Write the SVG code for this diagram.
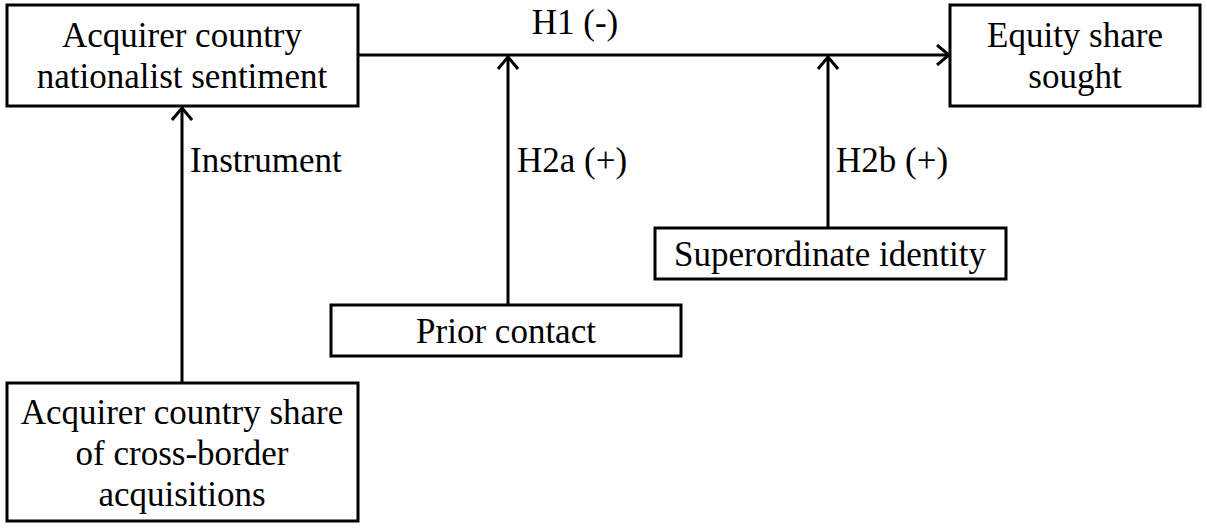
<svg xmlns="http://www.w3.org/2000/svg" width="1207" height="528" viewBox="0 0 1207 528">
<defs>
<style>
.box{fill:#fff;stroke:#000;stroke-width:3}
.t{font-family:"Liberation Serif","Times New Roman",serif;font-size:35px;fill:#000}
.c{text-anchor:middle}
.ln{fill:none;stroke:#000;stroke-width:3}
</style>
<marker id="ah" viewBox="0 0 14 22" refX="13" refY="11" markerWidth="14" markerHeight="22" markerUnits="userSpaceOnUse" orient="auto">
<path d="M1,1 L13,11 L1,21" fill="none" stroke="#000" stroke-width="3"/>
</marker>
</defs>
<rect width="1207" height="528" fill="#fff"/>
<g id="connectors">
<line class="ln" x1="358" y1="55" x2="949" y2="55" marker-end="url(#ah)"/>
<line class="ln" x1="182" y1="383" x2="182" y2="108" marker-end="url(#ah)"/>
<line class="ln" x1="508" y1="305" x2="508" y2="57" marker-end="url(#ah)"/>
<line class="ln" x1="828" y1="228" x2="828" y2="57" marker-end="url(#ah)"/>
<text class="t c" x="575" y="34">H1 (-)</text>
<text class="t" x="190" y="172">Instrument</text>
<text class="t" x="517" y="172">H2a (+)</text>
<text class="t" x="836" y="172">H2b (+)</text>
</g>
<g id="nationalist">
<rect class="box" x="7" y="5" width="351" height="101"/>
<text class="t c" x="182" y="47">Acquirer country</text>
<text class="t c" x="182" y="88">nationalist sentiment</text>
</g>
<g id="equity">
<rect class="box" x="950" y="5" width="250" height="101"/>
<text class="t c" x="1075" y="47">Equity share</text>
<text class="t c" x="1075" y="88">sought</text>
</g>
<g id="superordinate">
<rect class="box" x="655" y="228" width="351" height="51"/>
<text class="t c" x="830" y="266">Superordinate identity</text>
</g>
<g id="prior">
<rect class="box" x="331" y="305" width="350" height="51"/>
<text class="t c" x="506" y="343">Prior contact</text>
</g>
<g id="share">
<rect class="box" x="7" y="383" width="351" height="138"/>
<text class="t c" x="182" y="424">Acquirer country share</text>
<text class="t c" x="182" y="465">of cross-border</text>
<text class="t c" x="182" y="506">acquisitions</text>
</g>
</svg>
